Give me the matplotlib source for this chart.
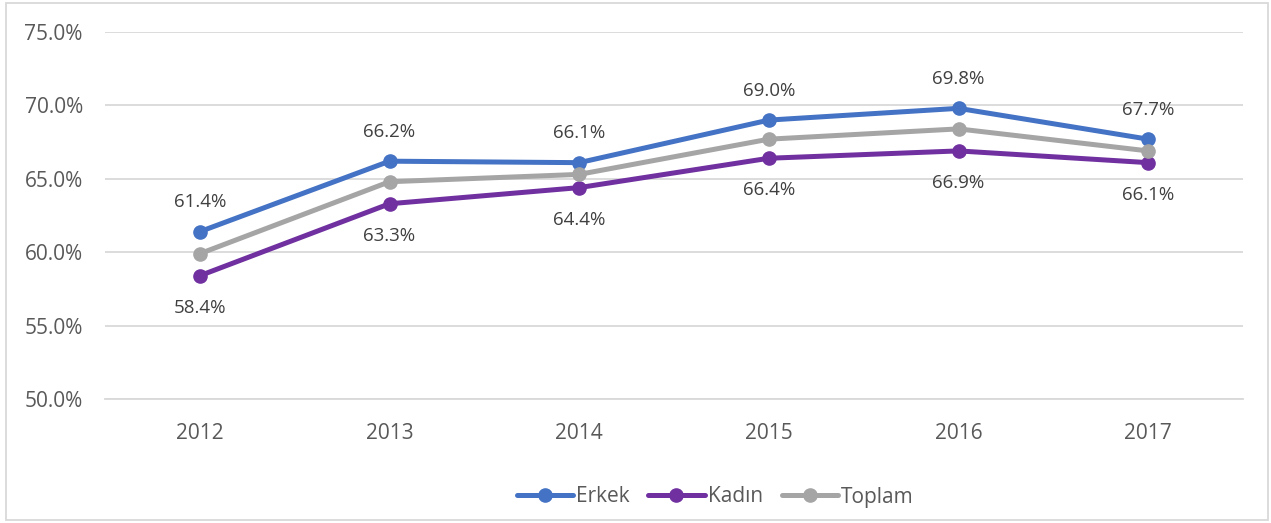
import matplotlib.pyplot as plt
from matplotlib.patches import Rectangle

years = ["2012", "2013", "2014", "2015", "2016", "2017"]
erkek = [61.4, 66.2, 66.1, 69.0, 69.8, 67.7]
kadin = [58.4, 63.3, 64.4, 66.4, 66.9, 66.1]
toplam = [59.9, 64.8, 65.3, 67.7, 68.4, 66.9]
yticks = [50, 55, 60, 65, 70, 75]


def main():
    plt.rcParams["font.family"] = ["Open Sans", "DejaVu Sans"]
    W, H = 1271, 523
    fig = plt.figure(figsize=(W / 100, H / 100), dpi=100)
    ax = fig.add_axes([105 / W, 1 - 399 / H, (1243 - 105) / W, (399 - 32) / H])

    x = list(range(len(years)))
    series = [("Erkek", erkek, "#4472C4"), ("Kadın", kadin, "#7030A0"), ("Toplam", toplam, "#A5A5A5")]
    for name, vals, col in series:
        ax.plot(x, vals, color=col, lw=3.6, marker="o", ms=9.5, label=name,
                solid_capstyle="round", zorder=3)

    for i in x:
        ax.annotate(f"{erkek[i]:.1f}%", (i, erkek[i]), xytext=(0, 21), textcoords="offset points",
                    ha="center", va="center", fontsize=13.5, color="#404040")
        ax.annotate(f"{kadin[i]:.1f}%", (i, kadin[i]), xytext=(0, -23), textcoords="offset points",
                    ha="center", va="center", fontsize=13.5, color="#404040")

    ax.set_xlim(-0.5, 5.5)
    ax.set_ylim(50, 75)
    ax.set_yticks(yticks)
    ax.set_yticklabels([f"{v:.1f}%" for v in yticks])
    ax.set_xticks(x)
    ax.set_xticklabels(years)
    ax.grid(axis="y", color="#D9D9D9", lw=1.3)
    ax.set_axisbelow(True)
    for s in ax.spines.values():
        s.set_visible(False)
    ax.spines["bottom"].set_visible(True)
    ax.spines["bottom"].set_color("#D9D9D9")
    ax.spines["bottom"].set_linewidth(1.3)
    ax.tick_params(length=0, labelsize=15, labelcolor="#595959")
    ax.tick_params(axis="x", pad=17)
    ax.tick_params(axis="y", pad=16)

    fig.patches.append(Rectangle((6 / W, 3 / H), (1268 - 6) / W, (520 - 3) / H,
                                 transform=fig.transFigure, fill=False,
                                 edgecolor="#D9D9D9", lw=1.3))

    fig.legend(loc="center", bbox_to_anchor=(715 / W, 1 - 497 / H), ncol=3, frameon=False,
               fontsize=15, labelcolor="#595959", handlelength=2.7, columnspacing=0.9,
               handletextpad=0.15)
    fig.savefig("out.png", dpi=100)


if __name__ == "__main__":
    main()
